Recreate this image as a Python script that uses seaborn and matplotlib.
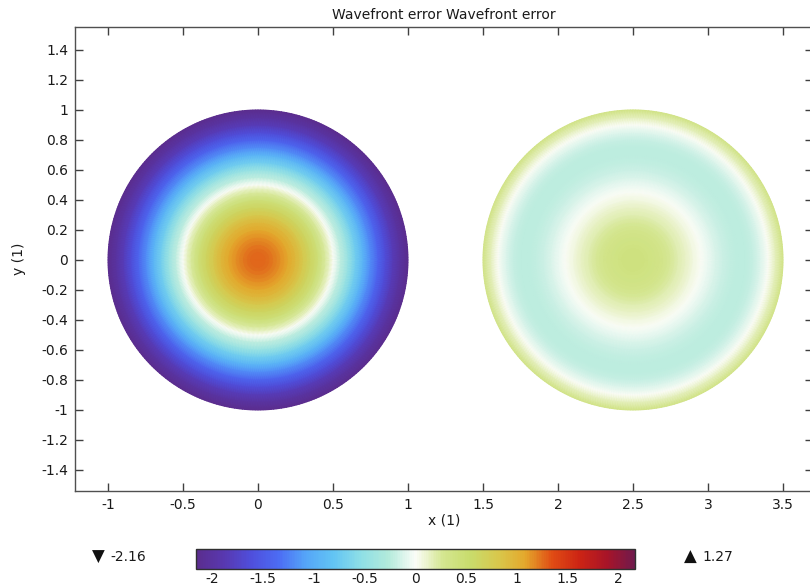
import numpy as np
import seaborn as sns
import matplotlib
import matplotlib.pyplot as plt
from matplotlib.colors import Normalize

sns.set_theme(style="ticks")
plt.rcParams['font.family'] = ['DejaVu Sans']
plt.rcParams['axes.unicode_minus'] = False

# radial profiles (value vs normalised radius)
radius = [0.0, 0.05, 0.1, 0.15, 0.2, 0.25, 0.3, 0.35, 0.4, 0.45, 0.5,
          0.55, 0.6, 0.65, 0.7, 0.75, 0.8, 0.85, 0.9, 0.95, 1.0]
wf_left = [1.27, 1.26, 1.21, 1.14, 1.05, 0.93, 0.78, 0.61, 0.43, 0.22, 0.0,
           -0.23, -0.47, -0.72, -0.96, -1.20, -1.43, -1.65, -1.85, -2.02, -2.16]
wf_right = [0.40, 0.39, 0.37, 0.34, 0.29, 0.24, 0.18, 0.12, 0.06, 0.0, -0.06,
            -0.12, -0.17, -0.21, -0.23, -0.23, -0.19, -0.11, 0.01, 0.16, 0.35]
centers = [(0.0, 0.0), (2.5, 0.0)]
vmin, vmax = -2.16, 2.16
min_val, max_val = -2.16, 1.27

# COMSOL-like "Wave" colour table, evenly spaced from vmin to vmax
wave_colors = ['#5b2d8e', '#5838b0', '#4f4fdc', '#4c6cf4', '#55a6f8', '#62c4f4',
               '#8edfe6', '#b2eadb', '#fbfdf8', '#d4e690', '#c8dc6c', '#d8c84c',
               '#e4a82c', '#e04c14', '#cc2414', '#a81428', '#701a4c']
cmap = sns.blend_palette(wave_colors, as_cmap=True)
norm = Normalize(vmin, vmax)

fig = plt.figure(figsize=(8.1, 5.85), dpi=100)
ax = fig.add_axes([75 / 810, 1 - 491 / 585, 738 / 810, 464 / 585])

ang = np.linspace(0, 2 * np.pi, 361)
rr, aa = np.meshgrid(radius, ang)
for (cx, cy), prof in zip(centers, [wf_left, wf_right]):
    vv = np.tile(prof, (len(ang), 1))
    ax.pcolormesh(cx + rr * np.cos(aa), cy + rr * np.sin(aa), vv,
                  cmap=cmap, norm=norm, shading='gouraud', rasterized=True)

ax.set_xlim(-1.22, 3.70)
ax.set_ylim(-1.54, 1.553)
ax.set_xticks(np.arange(-1, 3.51, 0.5))
ax.set_yticks(np.round(np.arange(-1.4, 1.41, 0.2), 1))


def fmt_tick(v, p):
    v = round(v, 2)
    return '%g' % (0.0 if v == 0 else v)


fmt = matplotlib.ticker.FuncFormatter(fmt_tick)
ax.xaxis.set_major_formatter(fmt)
ax.yaxis.set_major_formatter(fmt)
ax.tick_params(direction='in', length=6, width=1, color='#404040',
               top=True, right=True, labelsize=10, labelcolor='#1a1a1a', pad=5)
for s in ax.spines.values():
    s.set_color('#505050')
    s.set_linewidth(1)
ax.set_xlabel('x (1)', fontsize=10, labelpad=1, color='#1a1a1a')
ax.set_ylabel('y (1)', fontsize=10, labelpad=11, color='#1a1a1a')
ax.set_title('Wavefront error Wavefront error', fontsize=10, pad=6, color='#1a1a1a')

cax = fig.add_axes([196 / 810, 1 - 569 / 585, 439 / 810, 20 / 585])
sm = matplotlib.cm.ScalarMappable(norm=norm, cmap=cmap)
cb = fig.colorbar(sm, cax=cax, orientation='horizontal')
cb.set_ticks(np.arange(-2, 2.01, 0.5))
cb.ax.xaxis.set_major_formatter(fmt)
cb.ax.tick_params(direction='in', length=4, width=1, color='#303030', top=True,
                  labelsize=10, labelcolor='#1a1a1a', pad=2)
cb.outline.set_edgecolor('#303030')
cb.outline.set_linewidth(1)

fig.text(92 / 810, 1 - 557 / 585, '\u25bc', fontsize=12,
         va='center', ha='left', color='#111111')
fig.text(110 / 810, 1 - 557 / 585, '%.2f' % min_val, fontsize=10,
         va='center', ha='left', color='#1a1a1a')
fig.text(684 / 810, 1 - 557 / 585, '\u25b2', fontsize=12,
         va='center', ha='left', color='#111111')
fig.text(702 / 810, 1 - 557 / 585, '%.2f' % max_val, fontsize=10,
         va='center', ha='left', color='#1a1a1a')

fig.savefig('out.png', dpi=100, facecolor='white')
